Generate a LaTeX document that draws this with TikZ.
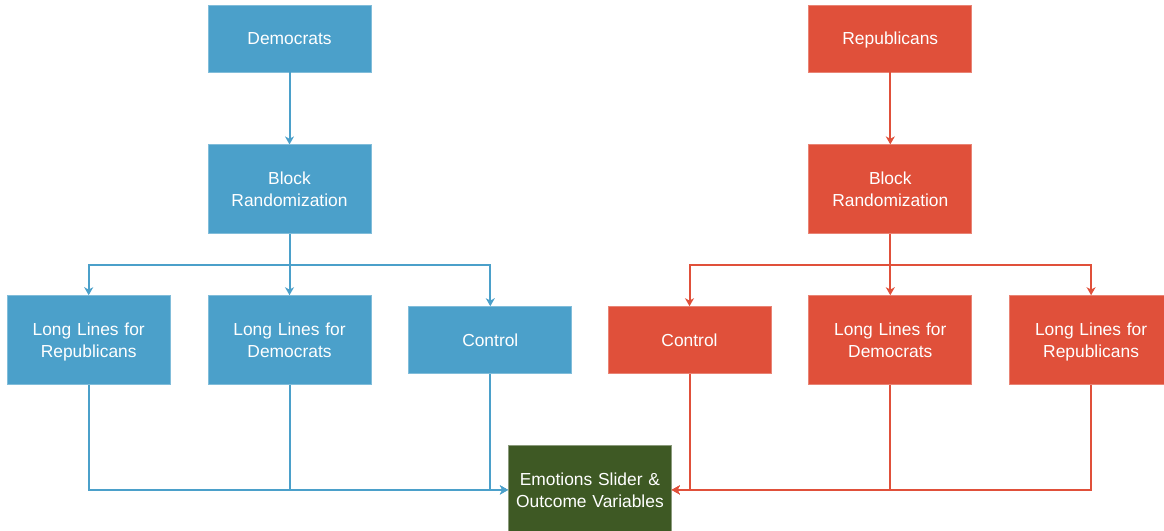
\documentclass[tikz,border=0pt]{standalone}
\usepackage{fontspec}
\setmainfont{Liberation Sans}
\usetikzlibrary{
arrows.meta,
positioning,
calc
}
\definecolor{demblue}{RGB}{75,160,202}
\definecolor{repred}{RGB}{224,80,58}
\definecolor{outgreen}{RGB}{62,89,36}

\begin{document}
\begin{tikzpicture}[
    >={Stealth[length=4pt,width=4.5pt,inset=1.2pt]},
    box/.style={rectangle, minimum width=81.5pt, text width=78pt, align=center,
      inner sep=0pt, text=white, line width=0.4pt,
      font=\fontsize{8.7}{11}\selectfont,
      execute at begin node=\rule{0pt}{9.5pt}, execute at end node=\strut},
    tall/.style={box, minimum height=44.5pt},
    short/.style={box, minimum height=33.5pt},
    dem/.style={fill=demblue, draw=demblue!70!white},
    rep/.style={fill=repred, draw=repred!70!white},
    outcome/.style={tall, fill=outgreen, draw=outgreen!60!white},
    demline/.style={->, demblue, line width=1pt},
    repline/.style={->, repred, line width=1pt}]
  \useasboundingbox (0,0) rectangle (582pt,-265.5pt);
  % democrat side
  \node[short, dem] (dem) at (144.75pt,-19.25pt) {Democrats};
  \node[tall, dem, below=36pt of dem] (blockD) {Block\\Randomization};
  \node[tall, dem, below=30.5pt of blockD] (lldemD) {Long Lines for\\Democrats};
  \node[tall, dem, left=18.5pt of lldemD] (llrepD) {Long Lines for\\Republicans};
  \node[short, dem, right=18.5pt of lldemD] (ctrlD) {Control};
  % republican side
  \node[short, rep, right=218.5pt of dem] (rep) {Republicans};
  \node[tall, rep, below=36pt of rep] (blockR) {Block\\Randomization};
  \node[tall, rep, below=30.5pt of blockR] (lldemR) {Long Lines for\\Democrats};
  \node[short, rep, left=18.5pt of lldemR] (ctrlR) {Control};
  \node[tall, rep, right=18.5pt of lldemR] (llrepR) {Long Lines for\\Republicans};
  % outcome
  \coordinate (mid) at ($(lldemD.south)!0.5!(lldemR.south)$);
  \node[outcome, below=30pt of mid] (emo) {Emotions Slider \&\\Outcome Variables};
  \draw[demline] (dem) -- (blockD);
  \draw[demline] (blockD.south) -- ++(0,-15.5pt) -| (llrepD.north);
  \draw[demline] (blockD.south) -- (lldemD.north);
  \draw[demline] (blockD.south) -- ++(0,-15.5pt) -| (ctrlD.north);
  \draw[demline] (llrepD.south) |- (emo.west);
  \draw[demline] (lldemD.south) |- (emo.west);
  \draw[demline] (ctrlD.south) |- (emo.west);
  \draw[repline] (rep) -- (blockR);
  \draw[repline] (blockR.south) -- ++(0,-15.5pt) -| (ctrlR.north);
  \draw[repline] (blockR.south) -- (lldemR.north);
  \draw[repline] (blockR.south) -- ++(0,-15.5pt) -| (llrepR.north);
  \draw[repline] (ctrlR.south) |- (emo.east);
  \draw[repline] (lldemR.south) |- (emo.east);
  \draw[repline] (llrepR.south) |- (emo.east);
\end{tikzpicture}
\end{document}
